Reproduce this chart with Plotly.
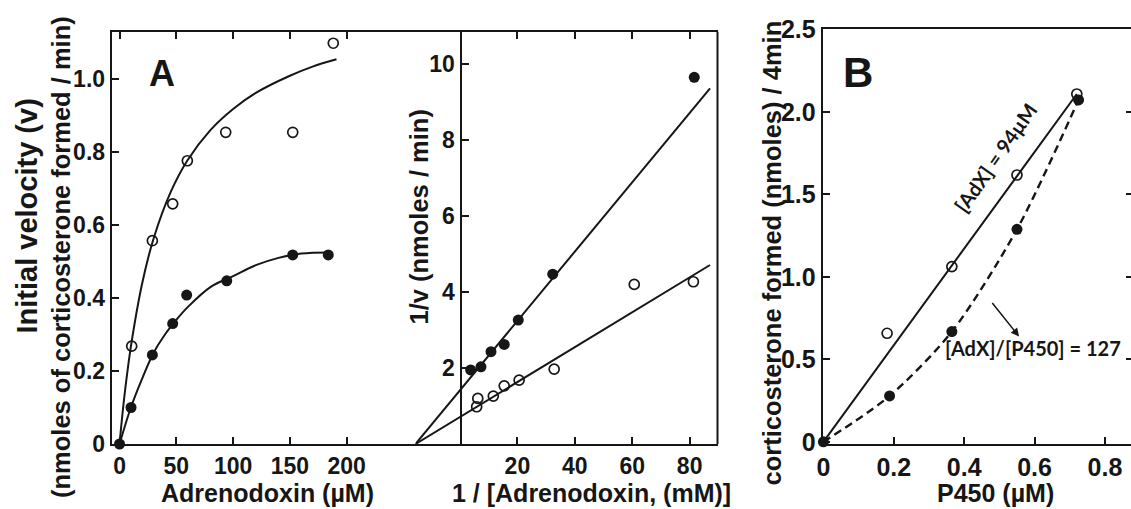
import plotly.graph_objects as go

W, H = 1131, 509
INK = "#161616"
FONT = "Liberation Sans, Arial, sans-serif"

# ---------------- Panel A (left): initial velocity vs [Adrenodoxin] ----------------
adx_open = [10.7, 28.9, 46.8, 59.7, 93.5, 152.5, 188.2]
v_open = [0.268, 0.557, 0.658, 0.776, 0.854, 0.854, 1.098]
adx_filled = [0, 10.1, 28.9, 46.8, 59.1, 94.4, 152.5, 183.8]
v_filled = [0, 0.10, 0.244, 0.33, 0.408, 0.447, 0.518, 0.518]
curve_open_x = [0, 2, 5, 10, 20, 30, 45, 60, 80, 100, 120, 150, 170, 191]
curve_open_y = [0, 0.065, 0.15, 0.267, 0.441, 0.563, 0.690, 0.778, 0.860, 0.918, 0.962, 1.009, 1.034, 1.054]
curve_filled_x = [0, 10, 20, 30, 40, 50, 60, 80, 100, 120, 140, 160, 185]
curve_filled_y = [0, 0.10, 0.18, 0.25, 0.30, 0.34, 0.375, 0.43, 0.46, 0.49, 0.51, 0.522, 0.525]
a_left_xticks = [0, 50, 100, 150, 200]
a_left_yticks = [0, 0.2, 0.4, 0.6, 0.8, 1.0]
a_left_yticktext = ["0", "0.2", "0.4", "0.6", "0.8", "1.0"]

# ---------------- Panel A (right): double-reciprocal plot ----------------
inv_s_filled = [3.7, 7.3, 10.8, 15.4, 20.3, 32.3, 81.6]
inv_v_filled = [1.95, 2.03, 2.43, 2.62, 3.26, 4.47, 9.65]
inv_s_open = [5.8, 6.2, 11.6, 15.4, 20.6, 32.8, 60.7, 81.3]
inv_v_open = [0.98, 1.2, 1.26, 1.53, 1.68, 1.97, 4.2, 4.27]
fitline_x = [-15.5, 87.1]
fitline_filled_y = [0, 9.36]
fitline_open_y = [0, 4.71]
a_right_xticks = [20, 40, 60, 80]
a_right_yticks = [2, 4, 6, 8, 10]

# ---------------- Panel B: product vs [P450] ----------------
p450_open = [0.181, 0.365, 0.55, 0.72]
prod_open = [0.658, 1.062, 1.617, 2.108]
p450_filled = [0, 0.188, 0.365, 0.55, 0.725]
prod_filled = [0, 0.278, 0.668, 1.288, 2.072]
solid_x = [0, 0.72]
solid_y = [0, 2.108]
b_xticks = [0, 0.2, 0.4, 0.6, 0.8]
b_xticktext = ["0", "0.2", "0.4", "0.6", "0.8"]
b_yticks = [0, 0.5, 1.0, 1.5, 2.0, 2.5]
b_yticktext = ["0", "0.5", "1.0", "1.5", "2.0", "2.5"]


def px(x):
    return x / W


def py(y):
    return 1 - y / H


fig = go.Figure()

open_marker = dict(symbol="circle-open", size=10, color=INK, line=dict(width=1.7, color=INK))
filled_marker = dict(symbol="circle", size=11, color=INK)
line_style = dict(color=INK, width=2)

# Panel A left
fig.add_trace(go.Scatter(x=curve_open_x, y=curve_open_y, mode="lines", line=dict(shape="spline", **line_style),
                         xaxis="x", yaxis="y", cliponaxis=False, hoverinfo="skip"))
fig.add_trace(go.Scatter(x=curve_filled_x, y=curve_filled_y, mode="lines", line=dict(shape="spline", **line_style),
                         xaxis="x", yaxis="y", cliponaxis=False, hoverinfo="skip"))
fig.add_trace(go.Scatter(x=adx_open, y=v_open, mode="markers", marker=open_marker, xaxis="x", yaxis="y", cliponaxis=False))
fig.add_trace(go.Scatter(x=adx_filled, y=v_filled, mode="markers", marker=filled_marker, xaxis="x", yaxis="y", cliponaxis=False))

# Panel A right
fig.add_trace(go.Scatter(x=fitline_x, y=fitline_filled_y, mode="lines", line=line_style, xaxis="x2", yaxis="y2", cliponaxis=False, hoverinfo="skip"))
fig.add_trace(go.Scatter(x=fitline_x, y=fitline_open_y, mode="lines", line=line_style, xaxis="x2", yaxis="y2", cliponaxis=False, hoverinfo="skip"))
fig.add_trace(go.Scatter(x=inv_s_open, y=inv_v_open, mode="markers", marker=open_marker, xaxis="x2", yaxis="y2", cliponaxis=False))
fig.add_trace(go.Scatter(x=inv_s_filled, y=inv_v_filled, mode="markers", marker=filled_marker, xaxis="x2", yaxis="y2", cliponaxis=False))

# Panel B
fig.add_trace(go.Scatter(x=solid_x, y=solid_y, mode="lines", line=line_style, xaxis="x3", yaxis="y3", cliponaxis=False, hoverinfo="skip"))
fig.add_trace(go.Scatter(x=p450_filled, y=prod_filled, mode="lines",
                         line=dict(color=INK, width=2.4, dash="8px,5px", shape="spline", smoothing=0.8),
                         xaxis="x3", yaxis="y3", cliponaxis=False, hoverinfo="skip"))
fig.add_trace(go.Scatter(x=p450_open, y=prod_open, mode="markers", marker=open_marker, xaxis="x3", yaxis="y3", cliponaxis=False))
fig.add_trace(go.Scatter(x=p450_filled, y=prod_filled, mode="markers", marker=filled_marker, xaxis="x3", yaxis="y3", cliponaxis=False))
# carrier for right-hand tick axis of panel B
fig.add_trace(go.Scatter(x=[], y=[], mode="markers", xaxis="x3", yaxis="y4", hoverinfo="skip"))

tickfont_a = dict(family=FONT, size=23, color=INK, weight="bold")
tickfont_b = dict(family=FONT, size=25, color=INK, weight="bold")
common = dict(showgrid=False, zeroline=False, showline=True, linecolor=INK, linewidth=2,
              ticks="inside", tickcolor=INK, tickwidth=2, ticklen=7, automargin=False)

a_dom_y = [py(444), py(31.7)]
b_dom_y = [py(444), py(29.3)]

fig.update_layout(
    width=W, height=H, autosize=False,
    margin=dict(l=0, r=0, t=0, b=0, pad=0, autoexpand=False),
    paper_bgcolor="white", plot_bgcolor="white",
    showlegend=False,
    xaxis=dict(domain=[px(111.7), px(415.5)], anchor="y", range=[-6.9, 260.6],
               tickvals=a_left_xticks, mirror="ticks", tickfont=tickfont_a, **common),
    yaxis=dict(domain=a_dom_y, anchor="x", range=[0, 1.1296],
               tickvals=a_left_yticks, ticktext=a_left_yticktext, mirror=False, tickfont=tickfont_a, **common),
    xaxis2=dict(domain=[px(415.5), px(717.5)], anchor="y2", range=[-15.5, 89.7],
                tickvals=a_right_xticks, mirror="ticks", tickfont=tickfont_a, **common),
    yaxis2=dict(domain=a_dom_y, anchor="free", position=px(460.5), range=[0, 10.85],
                tickvals=a_right_yticks, mirror=False, tickfont=tickfont_a, **common),
    xaxis3=dict(domain=[px(822.7), 1.0], anchor="y3", range=[-0.002, 0.874],
                tickvals=b_xticks, ticktext=b_xticktext, mirror=True, tickfont=tickfont_b, **common),
    yaxis3=dict(domain=b_dom_y, anchor="x3", range=[-0.013, 2.5],
                tickvals=b_yticks, ticktext=b_yticktext, mirror=False, tickfont=tickfont_b, **common),
    yaxis4=dict(overlaying="y3", anchor="free", position=1.0, side="right", range=[-0.013, 2.5],
                tickvals=[0.5, 1.0, 1.5, 2.0], showticklabels=False, showline=False, showgrid=False,
                zeroline=False, ticks="inside", ticklen=5, tickwidth=2, tickcolor=INK, automargin=False),
    shapes=[dict(type="line", xref="paper", yref="paper", x0=px(717.5), x1=px(717.5),
                 y0=a_dom_y[0], y1=a_dom_y[1], line=dict(color=INK, width=2))],
)


def label(text, x, y, size, angle=0, family=FONT, weight="bold"):
    fig.add_annotation(text=text, x=px(x), y=py(y), xref="paper", yref="paper", showarrow=False,
                       xanchor="center", yanchor="middle", textangle=angle,
                       font=dict(family=family, size=size, color=INK, weight=weight))


# axis titles
label("Initial velocity (v)", 26, 216.5, 29, -90)
label("(nmoles of corticosterone formed / min)", 61, 257, 25.5, -90)
label("Adrenodoxin (µM)", 267.5, 493, 25)
label("1/v (nmoles / min)", 418, 217.5, 25.5, -90)
label("1 / [Adrenodoxin, (mM)]", 591.5, 493, 25)
label("corticosterone formed (nmoles) / 4min", 771, 253.5, 25.5, -90)
label("P450 (µM)", 995, 493, 25)

# panel letters
label("A", 162, 73.3, 36)
label("B", 858.3, 72.5, 42)

# panel B text
label("[AdX] = 94µM", 995, 158, 20, -55, family="Lato, Open Sans, sans-serif")
label("[AdX]/[P450] = 127", 1033, 348, 20, 0, family="Lato, Open Sans, sans-serif")
fig.add_annotation(x=0.556, y=0.638, xref="x3", yref="y3", ax=-28, ay=-35, axref="pixel", ayref="pixel",
                   text="", showarrow=True, arrowhead=2, arrowsize=1.1, arrowwidth=1.5, arrowcolor=INK)

fig.write_html("out.html", config={"responsive": False, "displayModeBar": False},
               post_script="document.body.style.margin='0';document.body.style.padding='0';"
                           "document.body.style.overflow='hidden';")
